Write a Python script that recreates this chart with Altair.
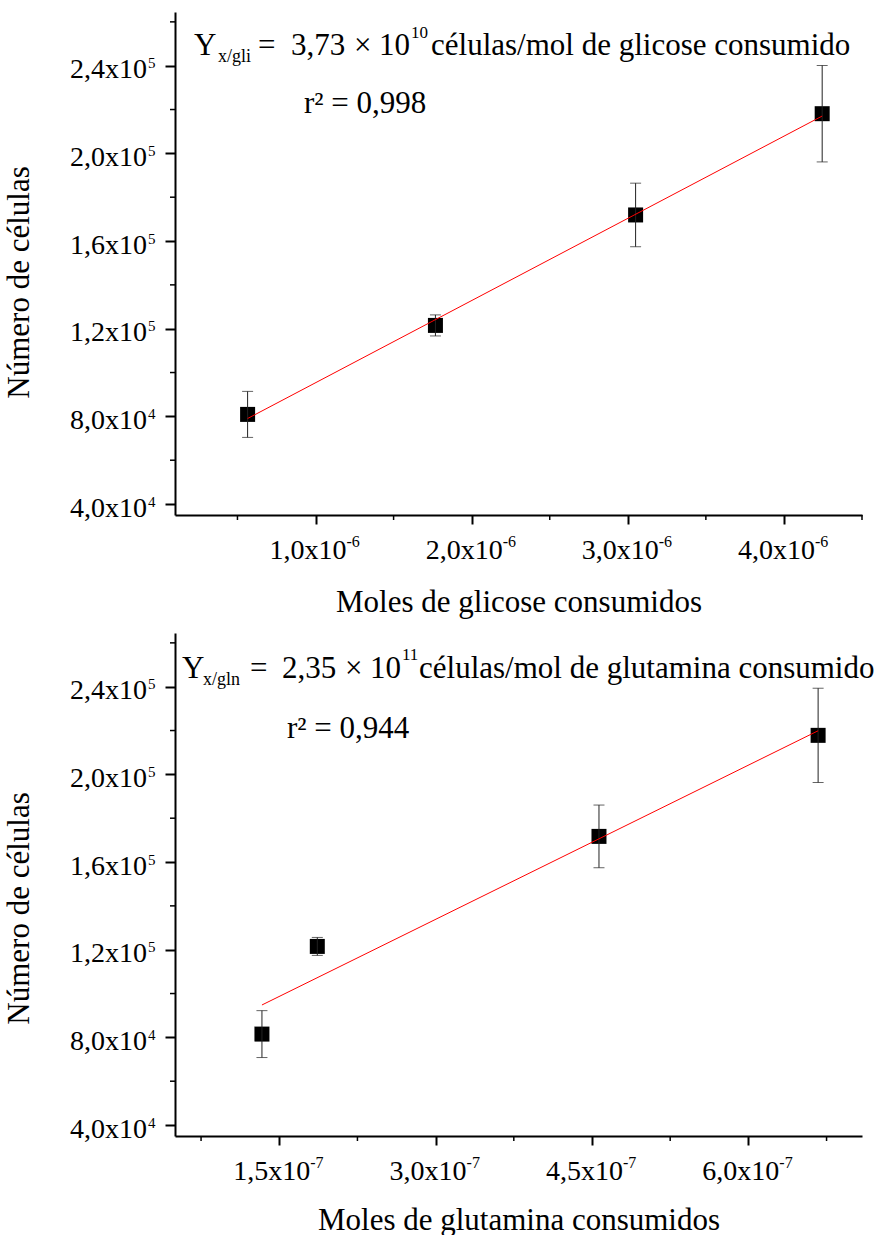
import altair as alt
import pandas as pd

# ---------------- data ----------------
gli_x = [0.565e-6, 1.768e-6, 3.05e-6, 4.245e-6]
gli_y = [8.09e4, 1.215e5, 1.719e5, 2.181e5]
gli_err = [1.05e4, 4.8e3, 1.45e4, 2.2e4]

gln_x = [1.334e-7, 1.865e-7, 4.567e-7, 6.669e-7]
gln_y = [8.15e4, 1.215e5, 1.717e5, 2.178e5]
gln_err = [1.07e4, 4.1e3, 1.43e4, 2.15e4]

y_domain = [3.5e4, 2.645e5]
y_major = [4e4, 8e4, 1.2e5, 1.6e5, 2.0e5, 2.4e5]
y_major_mant = ["4,0x10", "8,0x10", "1,2x10", "1,6x10", "2,0x10", "2,4x10"]
y_major_exp = ["4", "4", "5", "5", "5", "5"]
y_minor = [6e4, 1e5, 1.4e5, 1.8e5, 2.2e5, 2.6e5]

gli_x_domain = [1e-7, 4.5e-6]
gli_x_major = [1e-6, 2e-6, 3e-6, 4e-6]
gli_x_major_mant = ["1,0x10", "2,0x10", "3,0x10", "4,0x10"]
gli_x_major_exp = ["-6", "-6", "-6", "-6"]
gli_x_minor = [0.5e-6, 1.5e-6, 2.5e-6, 3.5e-6, 4.5e-6]

gln_x_domain = [5e-8, 7.09e-7]
gln_x_major = [1.5e-7, 3e-7, 4.5e-7, 6e-7]
gln_x_major_mant = ["1,5x10", "3,0x10", "4,5x10", "6,0x10"]
gln_x_major_exp = ["-7", "-7", "-7", "-7"]
gln_x_minor = [0.75e-7, 2.25e-7, 3.75e-7, 5.25e-7, 6.75e-7]

y_title = "Número de células"
gli_x_title = "Moles de glicose consumidos"
gln_x_title = "Moles de glutamina consumidos"

gli_ann = {"Y": "Y", "sub": "x/gli", "eq": "=", "coef": "3,73", "times": "×",
           "ten": "10", "exp": "10", "unit": "células/mol de glicose consumido",
           "r2": "r² = 0,998"}
gln_ann = {"Y": "Y", "sub": "x/gln", "eq": "=", "coef": "2,35", "times": "×",
           "ten": "10", "exp": "11", "unit": "células/mol de glutamina consumido",
           "r2": "r² = 0,944"}

# ---------------- styling ----------------
W, H = 687, 503
FONT = "Liberation Serif"


def text_piece(txt, x, y, size):
    return alt.Chart(pd.DataFrame({"a": [0]})).mark_text(
        align="left", baseline="alphabetic", font=FONT, fontSize=size, color="black"
    ).encode(x=alt.value(x), y=alt.value(y), text=alt.value(txt))


def panel(xs, ys, errs, x_dom, x_major, x_mant, x_exp, x_minor, x_title, ann, pos,
          ytitle_y, xtitle_pad):
    df = pd.DataFrame({"x": xs, "y": ys, "e": errs})
    xscale = alt.Scale(domain=x_dom, nice=False, zero=False)
    yscale = alt.Scale(domain=y_domain, nice=False, zero=False)

    xaxis = alt.Axis(values=x_major, labels=False,
                     tickSize=9, tickWidth=2, tickColor="black",
                     domainWidth=2, domainColor="black", grid=False,
                     title=x_title, titleFont=FONT, titleFontSize=31,
                     titleFontWeight="normal", titleColor="black", titlePadding=xtitle_pad)
    yaxis = alt.Axis(values=y_major, labels=False,
                     tickSize=10, tickWidth=2, tickColor="black",
                     domainWidth=2, domainColor="black", grid=False,
                     title=y_title, titleFont=FONT, titleFontSize=31,
                     titleFontWeight="normal", titleColor="black",
                     titleX=-140, titleY=ytitle_y, titleAngle=270,
                     titleAlign="center", titleBaseline="bottom")

    X = lambda f: alt.X(f, scale=xscale, axis=xaxis, title=x_title)
    Y = lambda f: alt.Y(f, scale=yscale, axis=yaxis, title=y_title)

    pts = alt.Chart(df).mark_square(size=225, color="black", opacity=1).encode(
        x=X("x:Q"), y=Y("y:Q"),
    )
    err = alt.Chart(df).transform_calculate(
        lo="datum.y - datum.e", hi="datum.y + datum.e"
    ).mark_errorbar(ticks=True, size=11, thickness=1, color="#222222").encode(
        x=X("x:Q"), y=Y("lo:Q"), y2="hi:Q",
    )
    fit = alt.Chart(df).transform_regression("x", "y").mark_line(
        color="#ff0000", strokeWidth=1
    ).encode(x=X("x:Q"), y=Y("y:Q"))
    ymin = alt.Chart(pd.DataFrame({"v": y_minor})).mark_rule(
        color="black", strokeWidth=1.5
    ).encode(y=Y("v:Q"), x=alt.value(-5), x2=alt.value(0))
    xmin = alt.Chart(pd.DataFrame({"v": x_minor})).mark_rule(
        color="black", strokeWidth=1.5
    ).encode(x=X("v:Q"), y=alt.value(H), y2=alt.value(H + 5))

    # tick labels with real superscripts
    ydf = pd.DataFrame({"v": y_major, "m": y_major_mant, "p": y_major_exp})
    ylab = alt.Chart(ydf).mark_text(
        align="right", baseline="alphabetic", font=FONT, fontSize=28, color="black", dy=12.5
    ).encode(y=Y("v:Q"), x=alt.value(-28), text="m:N")
    ysup = alt.Chart(ydf).mark_text(
        align="left", baseline="alphabetic", font=FONT, fontSize=15, color="black", dy=2.5
    ).encode(y=Y("v:Q"), x=alt.value(-27), text="p:N")
    xdf = pd.DataFrame({"v": x_major, "m": x_mant, "p": x_exp})
    xlab = alt.Chart(xdf).mark_text(
        align="right", baseline="alphabetic", font=FONT, fontSize=28, color="black", dx=31
    ).encode(x=X("v:Q"), y=alt.value(H + 44), text="m:N")
    xsup = alt.Chart(xdf).mark_text(
        align="left", baseline="alphabetic", font=FONT, fontSize=16, color="black", dx=31
    ).encode(x=X("v:Q"), y=alt.value(H + 32), text="p:N")

    p = pos
    texts = [
        text_piece(ann["Y"], p["Y"][0], p["Y"][1], 31),
        text_piece(ann["sub"], p["sub"][0], p["sub"][1], 18),
        text_piece(ann["eq"], p["eq"][0], p["eq"][1], 31),
        text_piece(ann["coef"], p["coef"][0], p["coef"][1], 31),
        text_piece(ann["times"], p["times"][0], p["times"][1], 31),
        text_piece(ann["ten"], p["ten"][0], p["ten"][1], 31),
        text_piece(ann["exp"], p["exp"][0], p["exp"][1], 17),
        text_piece(ann["unit"], p["unit"][0], p["unit"][1], 31),
        text_piece(ann["r2"], p["r2"][0], p["r2"][1], 31),
    ]
    return alt.layer(pts, err, fit, ymin, xmin, ylab, ysup, xlab, xsup, *texts).properties(
        width=W, height=H)


gli_pos = {"Y": (19, 43), "sub": (43, 50), "eq": (83, 43), "coef": (116, 43),
           "times": (179, 43), "ten": (204, 43), "exp": (236, 26), "unit": (256, 43),
           "r2": (129, 101)}
gln_pos = {"Y": (7, 45), "sub": (28, 52), "eq": (75, 45), "coef": (107, 45),
           "times": (170, 45), "ten": (195, 45), "exp": (227, 27), "unit": (244, 45),
           "r2": (112, 105)}

top = panel(gli_x, gli_y, gli_err, gli_x_domain, gli_x_major, gli_x_major_mant,
            gli_x_major_exp, gli_x_minor, gli_x_title, gli_ann, gli_pos, 270, 62)
bottom = panel(gln_x, gln_y, gln_err, gln_x_domain, gln_x_major, gln_x_major_mant,
               gln_x_major_exp, gln_x_minor, gln_x_title, gln_ann, gln_pos, 275, 59)

chart = alt.vconcat(top, bottom, spacing=16).configure_view(stroke=None).properties(
    padding={"left": 3, "top": 12, "right": 0, "bottom": 0}, background="white"
)

chart.save("out.html", embed_options={"renderer": "svg", "actions": False})
